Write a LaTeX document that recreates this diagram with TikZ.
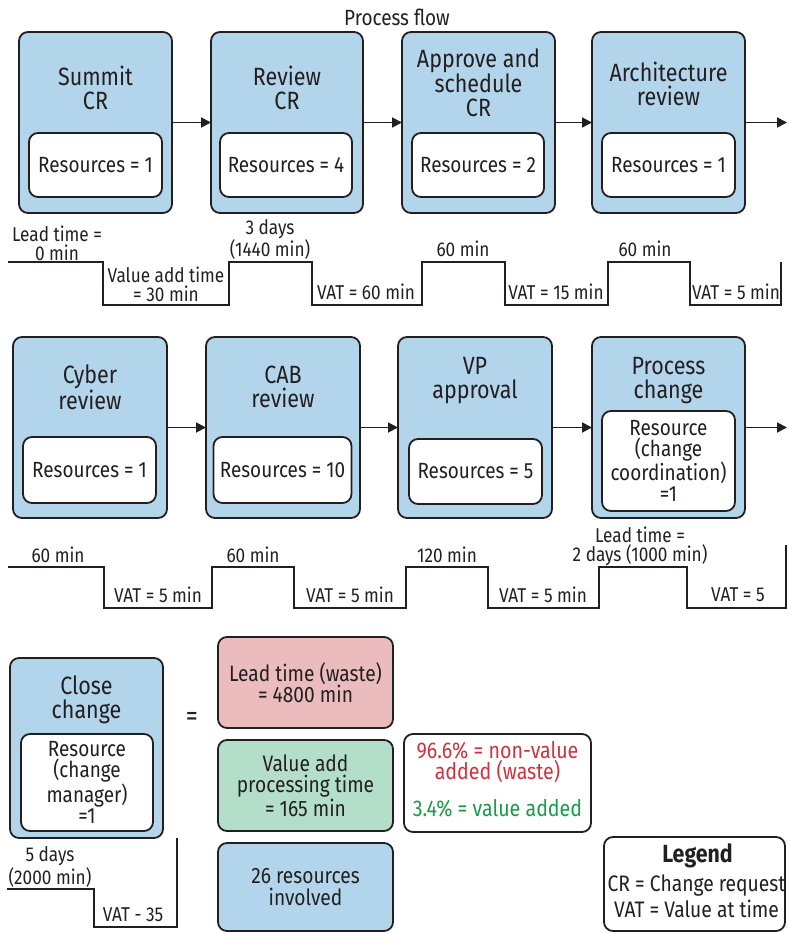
\documentclass[tikz,border=0pt]{standalone}
\usepackage{fontspec}
\setmainfont[FakeStretch=0.86]{Fira Sans}
\usetikzlibrary{arrows.meta}
\definecolor{stageblue}{HTML}{B3D5EB}
\definecolor{wastepink}{HTML}{EBBCBE}
\definecolor{valuegreen}{HTML}{B3DFCA}
\definecolor{wastered}{HTML}{D0323F}
\definecolor{addedgreen}{HTML}{1A9A4A}
\definecolor{ink}{HTML}{231F20}
\tikzset{
  box/.style={draw=ink, line width=1.8pt, rounded corners=9pt, inner sep=0pt, outer sep=0pt},
  stage/.style={box, fill=stageblue},
  resbox/.style={box, fill=white, align=center, font=\fontsize{22}{21}\selectfont, text=ink},
  title/.style={align=center, inner sep=0pt, font=\fontsize{25}{24}\selectfont, text=ink},
  tl/.style={align=center, inner sep=0pt, font=\fontsize{20}{19}\selectfont, text=ink},
  summary/.style={box, align=center, font=\fontsize{22.3}{21.5}\selectfont, text=ink},
  flow/.style={draw=ink, line width=1.8pt, -{Triangle[length=10pt,width=10pt]}},
  timeline/.style={draw=ink, line width=2pt}
}
\begin{document}
\begin{tikzpicture}[x=1pt,y=-1pt]
\useasboundingbox (0,0) rectangle (787,933);

\node[tl, font=\fontsize{22}{22}\selectfont] (head) at (397,17) {Process flow};

% ---- first row of stages
\node[stage, minimum width=153pt, minimum height=181pt] (s1) at (95.5,122.5) {};
\node[stage, minimum width=152pt, minimum height=181pt] (s2) at (287,122.5) {};
\node[stage, minimum width=153pt, minimum height=181pt] (s3) at (478.5,122.5) {};
\node[stage, minimum width=153pt, minimum height=181pt] (s4) at (668.5,122.5) {};

\node[title] (t1) at (95.5,87.5) {Summit\\CR};
\node[title] (t2) at (287,87.5) {Review\\CR};
\node[title] (t3) at (478.5,82.5) {Approve and\\schedule\\CR};
\node[title] (t4) at (668.5,84) {Architecture\\review};

\node[resbox, minimum width=133pt, minimum height=64pt] (r1) at (95.5,165) {Resources = 1};
\node[resbox, minimum width=132pt, minimum height=64pt] (r2) at (286,165) {Resources = 4};
\node[resbox, minimum width=132pt, minimum height=64pt] (r3) at (478,165) {Resources = 2};
\node[resbox, minimum width=133pt, minimum height=64pt] (r4) at (668.5,165) {Resources = 1};

\coordinate (out1) at (787,122.5);
\draw[flow] (s1) -- (s2);
\draw[flow] (s2) -- (s3);
\draw[flow] (s3) -- (s4);
\draw[flow] (s4.east) -- (out1);

% timeline of the first row
\draw[timeline] (8,262) -- (103,262) -- (103,305) -- (229,305) -- (229,262) -- (312,262)
  -- (312,305) -- (422,305) -- (422,262) -- (505,262) -- (505,305) -- (608,305)
  -- (608,262) -- (690,262) -- (690,305) -- (781,305) -- (781,262);
\node[tl] (l1) at (57,243.5) {Lead time =\\0 min};
\node[tl] (l2) at (166,284) {Value add time\\= 30 min};
\node[tl] (l3) at (270,239.5) {3 days\\(1440 min)};
\node[tl] (l4) at (366,292) {VAT = 60 min};
\node[tl] (l5) at (463,249) {60 min};
\node[tl] (l6) at (556,292) {VAT = 15 min};
\node[tl] (l7) at (645,249) {60 min};
\node[tl] (l8) at (736,292) {VAT = 5 min};

% ---- second row of stages
\node[stage, minimum width=154pt, minimum height=181pt] (s5) at (90,427.5) {};
\node[stage, minimum width=154pt, minimum height=181pt] (s6) at (283,427.5) {};
\node[stage, minimum width=154pt, minimum height=181pt] (s7) at (475,427.5) {};
\node[stage, minimum width=153pt, minimum height=181pt] (s8) at (668.5,427.5) {};

\node[title] (t5) at (90,387) {Cyber\\review};
\node[title] (t6) at (283,387) {CAB\\review};
\node[title] (t7) at (475,381) {VP\\approval};
\node[title] (t8) at (668.5,380.5) {Process\\change};

\node[resbox, minimum width=133pt, minimum height=66pt] (r5) at (89.5,470) {Resources = 1};
\node[resbox, minimum width=138pt, minimum height=66pt] (r6) at (282.5,470) {Resources = 10};
\node[resbox, minimum width=133pt, minimum height=65pt] (r7) at (475.5,471.5) {Resources = 5};
\node[resbox, minimum width=133pt, minimum height=100pt] (r8) at (668.5,461) {Resource\\(change\\coordination)\\=1};

\coordinate (out2) at (787,427.5);
\draw[flow] (s5) -- (s6);
\draw[flow] (s6) -- (s7);
\draw[flow] (s7) -- (s8);
\draw[flow] (s8.east) -- (out2);

% timeline of the second row
\draw[timeline] (8,567) -- (104,567) -- (104,608) -- (212,608) -- (212,567) -- (294,567)
  -- (294,608) -- (406,608) -- (406,567) -- (488,567) -- (488,608) -- (599,608)
  -- (599,567) -- (687,567) -- (687,608) -- (786,608) -- (786,545);
\node[tl] (l9) at (58,555) {60 min};
\node[tl] (l10) at (158,595) {VAT = 5 min};
\node[tl] (l11) at (253,555) {60 min};
\node[tl] (l12) at (350,595) {VAT = 5 min};
\node[tl] (l13) at (447,555) {120 min};
\node[tl] (l14) at (543,595) {VAT = 5 min};
\node[tl] (l15) at (640,546) {Lead time =\\2 days (1000 min)};
\node[tl] (l16) at (738,595) {VAT = 5};

% ---- last stage and the totals
\node[stage, minimum width=153pt, minimum height=180pt] (s9) at (86.5,748) {};
\node[title] (t9) at (86.5,700) {Close\\change};
\node[resbox, minimum width=132pt, minimum height=97pt] (r9) at (87,782.5) {Resource\\(change\\manager)\\=1};

\draw[timeline] (7,889) -- (94,889) -- (94,927) -- (177,927) -- (177,838);
\node[tl] (l17) at (50,867) {5 days\\(2000 min)};
\node[tl] (l18) at (133,915) {VAT - 35};

\node[title, font=\fontsize{28}{28}\selectfont] (eq) at (192,719) {=};

\node[summary, fill=wastepink, minimum width=175pt, minimum height=91pt] (lead) at (305.5,682.5) {Lead time (waste)\\= 4800 min};
\node[summary, fill=valuegreen, minimum width=175pt, minimum height=91pt] (vat) at (305.5,785.5) {Value add\\processing time\\= 165 min};
\node[summary, fill=stageblue, minimum width=175pt, minimum height=88pt] (res) at (305.5,887) {26 resources\\involved};

\node[summary, fill=white, minimum width=187pt, minimum height=98pt] (pct) at (497.5,783) {};
\node[tl, font=\fontsize{22.8}{19}\selectfont, text=wastered] (waste) at (497.5,762.5) {96.6\% = non-value\\added (waste)};
\node[tl, font=\fontsize{22.8}{19}\selectfont, text=addedgreen] (added) at (497.5,808) {3.4\% = value added};

\node[summary, fill=white, minimum width=181pt, minimum height=94pt] (legend) at (694.5,884) {};
\node[tl, font=\fontsize{24.8}{24}\bfseries] (lg) at (697.5,856) {Legend};
\node[tl, font=\fontsize{22.4}{26}\selectfont] (lgtext) at (696.5,896) {CR = Change request\\VAT = Value at time};
\end{tikzpicture}
\end{document}
